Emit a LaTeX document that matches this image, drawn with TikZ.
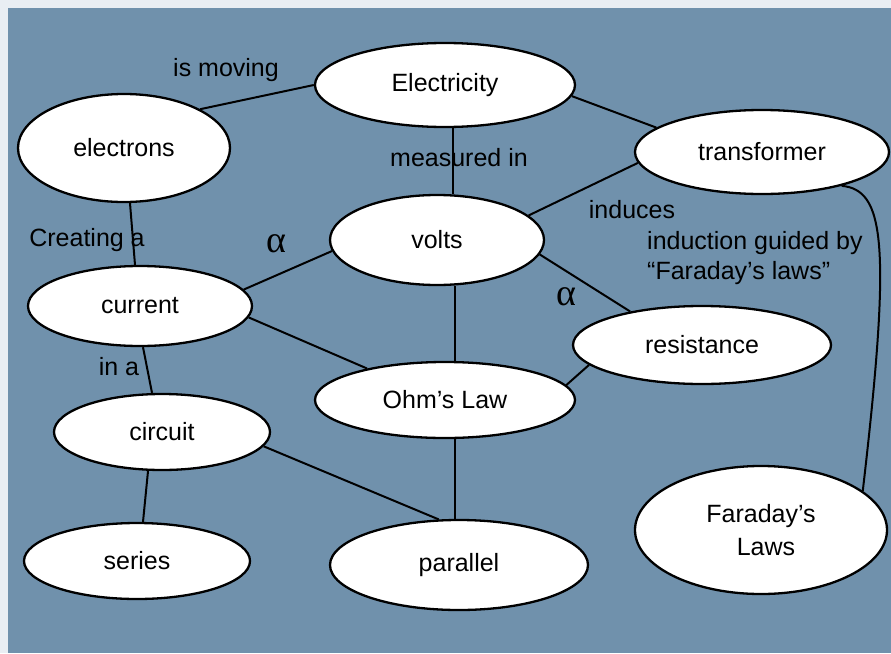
\documentclass[tikz,border=0pt]{standalone}
\usepackage{fontspec}
\setmainfont{Liberation Sans}
\newfontfamily\greekfont{Liberation Serif}
\usetikzlibrary{shapes.geometric}
\definecolor{pagebg}{HTML}{E9EEF3}
\definecolor{mapbg}{HTML}{7091AC}

\begin{document}
\begin{tikzpicture}[x=1pt,y=-1pt,
    concept/.style={ellipse,draw,fill=white,line width=2.3pt,inner sep=0pt,
        font=\fontsize{25}{29}\selectfont,align=center},
    linktext/.style={font=\fontsize{25}{30}\selectfont,inner sep=0pt},
    prop/.style={font=\greekfont\fontsize{38}{38}\selectfont,inner sep=0pt},
    link/.style={line width=2pt}]
        \fill[pagebg](0,0) rectangle (891,653);
        \fill[mapbg](8,8) rectangle (891,653);
        \useasboundingbox (0,0) rectangle (891,653);

        \node[concept,minimum width=260,minimum height=84] (elec) at (445,85) {Electricity};
        \node[concept,minimum width=212,minimum height=108] (electrons) at (124,148) {electrons};
        \node[concept,minimum width=254,minimum height=84] (tr) at (762,152) {transformer};
        \node[concept,minimum width=214,minimum height=90] (volts) at (437,240) {volts};
        \node[concept,minimum width=224,minimum height=80] (cur) at (140,306) {current};
        \node[concept,minimum width=258,minimum height=78] (res) at (702,345) {resistance};
        \node[concept,minimum width=260,minimum height=76] (ohm) at (445,400) {Ohm’s Law};
        \node[concept,minimum width=216,minimum height=76] (circ) at (162,432) {circuit};
        \node[concept,minimum width=226,minimum height=76] (ser) at (137,561) {series};
        \node[concept,minimum width=258,minimum height=90] (par) at (459,565) {parallel};
        \node[concept,minimum width=252,minimum height=128] (far) at (761,530) {Faraday’s\\[4pt]\hspace*{10pt}Laws};

        \draw[link](elec.west)--(electrons.27);
        \draw[link](elec.-5)--(tr.167);
        \draw[link]([xshift=8pt]elec.south)--([xshift=16pt]volts.north);
        \draw[link](tr.185)--(volts.15);
        \draw[link](tr.-23) .. controls (884,190) and (892,240) .. (far.21);
        \draw[link](volts.-8)--(res.155);
        \draw[link]([xshift=18pt]volts.south)--([xshift=10pt]ohm.north);
        \draw[link](cur.9)--(volts.186);
        \draw[link](cur.-6)--(ohm.158);
        \draw[link](res.190)--(ohm.7);
        \draw[link]([xshift=6pt]electrons.south)--([xshift=-5pt]cur.north);
        \draw[link]([xshift=3pt]cur.south)--([xshift=-10pt]circ.north);
        \draw[link]([xshift=-14pt]circ.south)--([xshift=6pt]ser.north);
        \draw[link](circ.-8)--(par.114);
        \draw[link]([xshift=10pt]ohm.south)--([xshift=-4pt]par.north);

        \node[linktext] (moving) at (226,70) {is moving};
        \node[linktext] (measured) at (459,158) {measured in};
        \node[linktext] (induces) at (632,210) {induces};
        \node[linktext,anchor=west,align=left] (guided) at (647,258) {induction guided by\\“Faraday’s laws”};
        \node[linktext] (creating) at (87,240) {Creating a};
        \node[linktext] (ina) at (119,367) {in a};
        \node[prop] (alphaleft) at (276,244) {α};
        \node[prop] (alpharight) at (566,297) {α};
\end{tikzpicture}
\end{document}
